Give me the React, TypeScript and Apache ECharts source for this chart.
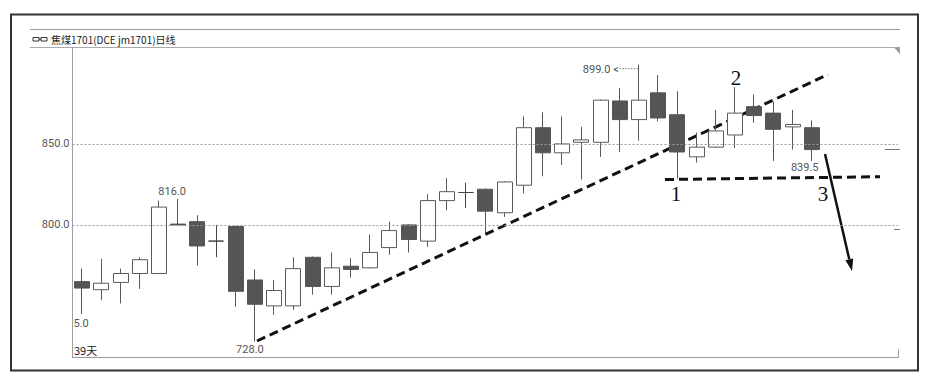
import React, { useEffect, useRef } from "react";
import * as echarts from "echarts";

// ---- data (jm1701 daily candles, 39 trading days; last 4 slots empty) ----
const categories = [
  "1", "2", "3", "4", "5", "6", "7", "8", "9", "10",
  "11", "12", "13", "14", "15", "16", "17", "18", "19", "20",
  "21", "22", "23", "24", "25", "26", "27", "28", "29", "30",
  "31", "32", "33", "34", "35", "36", "37", "38", "39", "40",
  "41", "42", "43",
];
const opens = [
  765, 760, 764.5, 770, 770, 800.5, 802, 790, 799, 766,
  750, 750, 780, 762, 774.5, 773.5, 786, 800, 790, 815,
  820, 822, 807.5, 824.5, 860, 844.5, 851, 851, 876.5, 865,
  881.5, 868, 842, 848, 855.5, 873, 869, 860.5, 860,
];
const closes = [
  761, 764, 770, 778.5, 811, 800, 787, 790, 759, 751,
  759.5, 773, 762, 773.5, 772.5, 783, 796.5, 791, 815, 820.5,
  820, 808.5, 826.5, 860, 844.5, 850, 852.5, 877, 865, 877,
  866, 845, 848, 858, 869, 867.5, 859, 862, 846.5,
];
const lows = [
  745, 753.5, 751.5, 760.5, 770, 800, 775, 780, 749.5, 728,
  744.5, 747.5, 757, 757, 767.5, 773, 781.5, 783, 786.5, 809,
  810.5, 795, 805, 819.5, 830, 837, 828, 842, 845, 852,
  864, 828.5, 838.5, 847.5, 847.5, 863, 839.5, 846.5, 839.5,
];
const highs = [
  773, 779, 773, 780, 815, 816, 806, 800, 799.5, 772.5,
  766, 780, 780.5, 783, 779.5, 794, 802, 800.5, 819, 829,
  826, 822.5, 827, 867, 869.5, 867, 860.5, 877.5, 884.5, 899,
  892.5, 882.5, 857, 871, 885, 880.5, 876, 871, 864.5,
];
const yTickValues = [800, 850];
const titleText = "焦煤1701(DCE jm1701)日线";
const daysText = "39天";

export default function App() {
  const ref = useRef<HTMLDivElement>(null);

  useEffect(() => {
    if (!ref.current) return;
    const chart = echarts.init(ref.current, undefined, { renderer: "svg" });

    const candleData = opens.map((o, i) => [o, closes[i], lows[i], highs[i]]);
    const numFont = "Roboto, 'Noto Sans', sans-serif";

    const arrowTip = [852, 271];
    const dir = [0.226, 0.974];
    const base = [arrowTip[0] - 12 * dir[0], arrowTip[1] - 12 * dir[1]];
    const perp = [dir[1] * 4, -dir[0] * 4];

    chart.setOption({
      animation: false,
      backgroundColor: "#ffffff",
      grid: { left: 72.5, top: 47.5, width: 825.6, height: 310 },
      xAxis: {
        type: "category",
        data: categories,
        boundaryGap: true,
        axisLine: { show: true, lineStyle: { color: "#9a9a9a", width: 1 } },
        axisLabel: { show: false },
        axisTick: {
          show: true,
          inside: true,
          length: 8,
          interval: (index: number) => index === 38,
          lineStyle: { color: "#9a9a9a" },
        },
        splitLine: { show: false },
      },
      yAxis: {
        type: "value",
        min: 718.15,
        max: 909.5,
        axisLine: { show: true, lineStyle: { color: "#a0a0a0", width: 1 } },
        axisTick: { show: false },
        axisLabel: {
          customValues: yTickValues,
          formatter: (v: number) => v.toFixed(1),
          color: "#555",
          fontSize: 11,
          fontFamily: numFont,
          margin: 3,
        },
        splitLine: { show: false },
      },
      series: [
        {
          type: "candlestick",
          data: candleData,
          barWidth: 15.5,
          itemStyle: {
            color: "#ffffff",
            color0: "#555555",
            borderColor: "#5a5a5a",
            borderColor0: "#555555",
            borderColorDoji: "#444444",
            borderWidth: 1,
          },
          markLine: {
            silent: true,
            symbol: "none",
            label: { show: false },
            lineStyle: { type: [2, 2], color: "#999999", width: 1 },
            data: yTickValues.map((v) => ({ yAxis: v })),
          },
          markPoint: {
            symbol: "circle",
            symbolSize: 0,
            silent: true,
            label: {
              show: true,
              color: "#555",
              fontSize: 11,
              fontFamily: numFont,
            },
            data: [
              { coord: [5, 816], label: { formatter: "816.0", position: "inside", offset: [-6, -7] } },
              { coord: [9, 728], label: { formatter: "728.0", position: "inside", offset: [-5, 8] } },
              { coord: [38, 839.5], label: { formatter: "839.5", position: "inside", offset: [-7, 7] } },
              { coord: [0, 745], label: { formatter: "5.0", position: "inside", offset: [-1, 9] } },
              {
                coord: [29, 899],
                label: { formatter: "899.0 <·······", position: "left", distance: 0, offset: [0, 5] },
              },
            ],
          },
        },
      ],
      graphic: [
        // outer frame
        {
          type: "rect",
          shape: { x: 11, y: 14.5, width: 907, height: 356 },
          style: { fill: "none", stroke: "#333", lineWidth: 2 },
          silent: true,
        },
        // header lines
        {
          type: "line",
          shape: { x1: 30, y1: 29.5, x2: 900, y2: 29.5 },
          style: { stroke: "#999", lineWidth: 1.2 },
          silent: true,
        },
        {
          type: "line",
          shape: { x1: 30, y1: 47.5, x2: 900, y2: 47.5 },
          style: { stroke: "#aaa", lineWidth: 1 },
          silent: true,
        },
        {
          type: "polygon",
          shape: { points: [[894, 47.5], [900, 47.5], [900, 54]] },
          style: { fill: "#999" },
          silent: true,
        },
        // title icons
        {
          type: "rect",
          shape: { x: 33, y: 37.5, width: 6, height: 3.5 },
          style: { fill: "none", stroke: "#333", lineWidth: 1 },
          silent: true,
        },
        {
          type: "rect",
          shape: { x: 41, y: 37.5, width: 6, height: 3.5 },
          style: { fill: "none", stroke: "#333", lineWidth: 1 },
          silent: true,
        },
        {
          type: "line",
          shape: { x1: 39, y1: 39.3, x2: 41, y2: 39.3 },
          style: { stroke: "#333", lineWidth: 1 },
          silent: true,
        },
        {
          type: "text",
          x: 51,
          y: 39.5,
          style: {
            text: titleText,
            fill: "#222",
            fontSize: 10,
            fontFamily: "'Noto Sans CJK SC', sans-serif",
            verticalAlign: "middle",
          },
          silent: true,
        },
        {
          type: "text",
          x: 74,
          y: 350,
          style: {
            text: daysText,
            fill: "#222",
            fontSize: 11,
            fontFamily: "'Noto Sans CJK SC', sans-serif",
            verticalAlign: "middle",
          },
          silent: true,
        },
        // right side markers
        {
          type: "line",
          shape: { x1: 885, y1: 149.5, x2: 900, y2: 149.5 },
          style: { stroke: "#777", lineWidth: 1 },
          silent: true,
        },
        {
          type: "line",
          shape: { x1: 894, y1: 229.5, x2: 900, y2: 229.5 },
          style: { stroke: "#777", lineWidth: 1 },
          silent: true,
        },
        // hand-drawn annotations
        {
          type: "line",
          shape: { x1: 257, y1: 341, x2: 828, y2: 74.5 },
          style: { stroke: "#111", lineWidth: 3, lineDash: [9, 5] },
          silent: true,
        },
        {
          type: "line",
          shape: { x1: 665, y1: 179.5, x2: 880, y2: 176.7 },
          style: { stroke: "#111", lineWidth: 3, lineDash: [9, 5] },
          silent: true,
        },
        {
          type: "line",
          shape: { x1: 825, y1: 154, x2: base[0], y2: base[1] },
          style: { stroke: "#111", lineWidth: 2.5 },
          silent: true,
        },
        {
          type: "polygon",
          shape: {
            points: [
              arrowTip,
              [base[0] + perp[0], base[1] + perp[1]],
              [base[0] - perp[0], base[1] - perp[1]],
            ],
          },
          style: { fill: "#111" },
          silent: true,
        },
        {
          type: "text",
          x: 676,
          y: 194,
          style: {
            text: "1",
            fill: "#111",
            fontSize: 21,
            fontFamily: "'Liberation Serif', 'DejaVu Serif', serif",
            align: "center",
            verticalAlign: "middle",
          },
          silent: true,
        },
        {
          type: "text",
          x: 736,
          y: 77.5,
          style: {
            text: "2",
            fill: "#111",
            fontSize: 21,
            fontFamily: "'Liberation Serif', 'DejaVu Serif', serif",
            align: "center",
            verticalAlign: "middle",
          },
          silent: true,
        },
        {
          type: "text",
          x: 823,
          y: 194,
          style: {
            text: "3",
            fill: "#111",
            fontSize: 21,
            fontFamily: "'Liberation Serif', 'DejaVu Serif', serif",
            align: "center",
            verticalAlign: "middle",
          },
          silent: true,
        },
      ],
    });

    return () => chart.dispose();
  }, []);

  return (
    <div
      ref={ref}
      style={{ position: "fixed", left: 0, top: 0, width: 937, height: 379, background: "#fff" }}
    />
  );
}
